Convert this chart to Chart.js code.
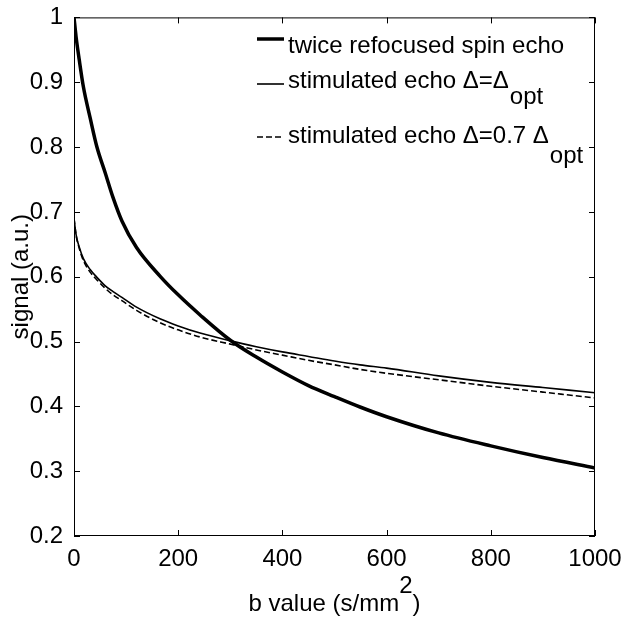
<!DOCTYPE html>
<html>
<head>
<meta charset="utf-8">
<script src="https://cdn.jsdelivr.net/npm/chart.js@4.4.1/dist/chart.umd.min.js"></script>
<style>
  html, body { margin: 0; padding: 0; background: #fff; }
  canvas { display: block; }
</style>
</head>
<body>
<canvas id="signalChart" width="630" height="619"></canvas>
<script>
const bValues  = [0, 4, 10, 18, 31, 44, 60, 75, 92, 120, 165, 200, 242, 300, 350, 400, 450, 500, 549, 600, 700, 800, 900, 1000];
const spinEcho = [1.0, 0.97, 0.935, 0.893, 0.845, 0.8, 0.76, 0.722, 0.686, 0.645, 0.601, 0.572, 0.541, 0.502, 0.476, 0.453, 0.432, 0.415, 0.399, 0.384, 0.359, 0.339, 0.321, 0.305];
const stimOpt  = [0.69, 0.665, 0.646, 0.628, 0.611, 0.599, 0.586, 0.577, 0.568, 0.553, 0.535, 0.524, 0.513, 0.501, 0.492, 0.484, 0.477, 0.47, 0.464, 0.459, 0.447, 0.437, 0.429, 0.421];
const stim07   = [0.69, 0.664, 0.644, 0.625, 0.607, 0.595, 0.582, 0.572, 0.563, 0.548, 0.529, 0.518, 0.507, 0.496, 0.487, 0.479, 0.471, 0.464, 0.457, 0.451, 0.441, 0.431, 0.422, 0.413];

const seriesNames = ["twice refocused spin echo", "stimulated echo \u0394=\u0394", "stimulated echo \u0394=0.7 \u0394"];
const seriesSubs  = ["", "opt", "opt"];

const xTicks = [0, 200, 400, 600, 800, 1000];
const yTicks = [0.2, 0.3, 0.4, 0.5, 0.6, 0.7, 0.8, 0.9, 1];
const xTitle = ["b value (s/mm", "2", ")"];
const yTitle = "signal (a.u.)";

const FAMILY = '"Liberation Sans", Arial, sans-serif';
const FONT = "24px " + FAMILY;

function toPoints(ys) {
  return bValues.map((b, i) => ({ x: b, y: ys[i] }));
}

// frame, inward ticks, axis titles and the legend with subscripts
const decorations = {
  id: "decorations",
  afterDraw(chart) {
    const { ctx, chartArea: a, scales: { x, y } } = chart;
    ctx.save();
    ctx.strokeStyle = "#000";
    ctx.lineWidth = 1;
    ctx.setLineDash([]);
    ctx.strokeRect(a.left + 0.5, a.top + 0.5, a.right - a.left - 1, a.bottom - a.top - 1);

    ctx.beginPath();
    xTicks.forEach(v => {
      const px = Math.round(x.getPixelForValue(v)) + 0.5;
      ctx.moveTo(px, a.bottom); ctx.lineTo(px, a.bottom - 6);
      ctx.moveTo(px, a.top); ctx.lineTo(px, a.top + 6);
    });
    yTicks.forEach(v => {
      const py = Math.round(y.getPixelForValue(v)) + 0.5;
      ctx.moveTo(a.left, py); ctx.lineTo(a.left + 6, py);
      ctx.moveTo(a.right, py); ctx.lineTo(a.right - 6, py);
    });
    ctx.stroke();

    ctx.fillStyle = "#000";
    ctx.font = FONT;
    ctx.textBaseline = "alphabetic";
    ctx.textAlign = "left";

    // x title with raised 2
    const w0 = ctx.measureText(xTitle[0]).width;
    const w1 = ctx.measureText(xTitle[1]).width;
    const w2 = ctx.measureText(xTitle[2]).width;
    const tx = (a.left + a.right) / 2 - (w0 + w1 + w2) / 2;
    ctx.fillText(xTitle[0], tx, 611);
    ctx.fillText(xTitle[1], tx + w0, 593);
    ctx.fillText(xTitle[2], tx + w0 + w1, 611);

    // y title
    ctx.save();
    ctx.translate(28, (a.top + a.bottom) / 2);
    ctx.rotate(-Math.PI / 2);
    ctx.textAlign = "center";
    ctx.fillText(yTitle, 0, 0);
    ctx.restore();

    // legend
    const sampleY = [39, 84, 137];
    const baseY = [53, 88, 143];
    const subY = [0, 104, 163];
    chart.data.datasets.forEach((ds, i) => {
      ctx.save();
      ctx.strokeStyle = ds.borderColor;
      ctx.lineWidth = ds.borderWidth;
      ctx.setLineDash(ds.borderDash || []);
      ctx.beginPath();
      ctx.moveTo(257, sampleY[i]);
      ctx.lineTo(284, sampleY[i]);
      ctx.stroke();
      ctx.restore();
      ctx.fillText(seriesNames[i], 288, baseY[i]);
      if (seriesSubs[i]) {
        const w = ctx.measureText(seriesNames[i]).width;
        ctx.fillText(seriesSubs[i], 288 + w + 1, subY[i]);
      }
    });
    ctx.restore();
  }
};

new Chart(document.getElementById("signalChart"), {
  type: "line",
  data: {
    datasets: [
      {
        label: seriesNames[0],
        data: toPoints(spinEcho),
        borderColor: "#000",
        borderWidth: 3.5,
        pointRadius: 0,
        fill: false,
        cubicInterpolationMode: "monotone"
      },
      {
        label: seriesNames[1],
        data: toPoints(stimOpt),
        borderColor: "#000",
        borderWidth: 1.6,
        pointRadius: 0,
        fill: false,
        cubicInterpolationMode: "monotone"
      },
      {
        label: seriesNames[2],
        data: toPoints(stim07),
        borderColor: "#000",
        borderWidth: 1.6,
        borderDash: [6, 3],
        pointRadius: 0,
        fill: false,
        cubicInterpolationMode: "monotone"
      }
    ]
  },
  options: {
    responsive: false,
    animation: false,
    devicePixelRatio: 1,
    layout: { padding: { left: 0, right: 35, top: 16, bottom: 0 } },
    plugins: { legend: { display: false }, tooltip: { enabled: false } },
    scales: {
      x: {
        type: "linear",
        min: 0,
        max: 1000,
        afterFit: s => { s.height = 83; },
        afterBuildTicks: s => { s.ticks = xTicks.map(v => ({ value: v })); },
        grid: { display: false },
        border: { display: false },
        ticks: {
          color: "#000",
          font: { family: FAMILY, size: 24 },
          padding: 1,
          maxRotation: 0,
          autoSkip: false,
          callback: v => String(v)
        }
      },
      y: {
        type: "linear",
        min: 0.2,
        max: 1,
        afterFit: s => { s.width = 74; },
        afterBuildTicks: s => { s.ticks = yTicks.map(v => ({ value: v })); },
        grid: { display: false },
        border: { display: false },
        ticks: {
          color: "#000",
          font: { family: FAMILY, size: 24 },
          padding: 3,
          autoSkip: false,
          callback: v => String(+Number(v).toFixed(1))
        }
      }
    }
  },
  plugins: [decorations]
});
</script>
</body>
</html>
